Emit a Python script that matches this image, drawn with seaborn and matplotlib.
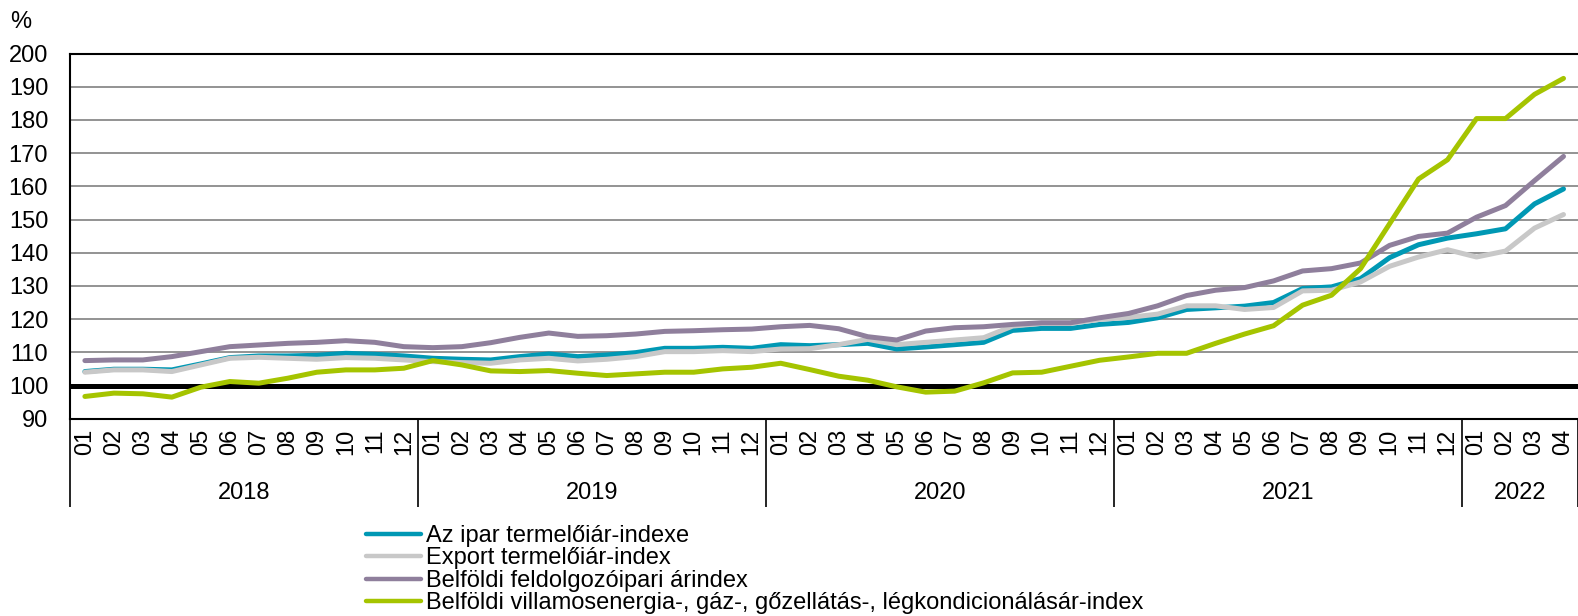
import pandas as pd
import matplotlib
matplotlib.use('Agg')
import matplotlib.pyplot as plt
import matplotlib.transforms as mtransforms
import seaborn as sns

# monthly data, 2018-01 .. 2022-04
months = ['01', '02', '03', '04', '05', '06', '07', '08', '09', '10', '11', '12'] * 4 + ['01', '02', '03', '04']
years = ['2018', '2019', '2020', '2021', '2022']
year_len = [12, 12, 12, 12, 4]

series_names = [
    'Az ipar termelőiár-indexe',
    'Export termelőiár-index',
    'Belföldi feldolgozóipari árindex',
    'Belföldi villamosenergia-, gáz-, gőzellátás-, légkondicionálásár-index',
]

ipar = [104.2, 104.9, 104.9, 104.7, 106.5, 108.4, 108.9, 108.9, 109.1, 109.7, 109.4, 108.9,
        108.2, 107.9, 107.7, 108.7, 109.5, 108.7, 109.2, 109.9, 111.2, 111.2, 111.5, 111.2,
        112.3, 112.0, 112.3, 112.7, 111.0, 111.6, 112.3, 113.0, 116.6, 117.2, 117.2, 118.4,
        119.0, 120.4, 122.9, 123.4, 123.9, 125.0, 129.2, 129.7, 132.2, 138.5, 142.4, 144.4,
        145.7, 147.2, 154.7, 159.2]
export = [104.0, 104.7, 104.7, 104.2, 106.2, 108.2, 108.5, 108.2, 107.9, 108.4, 108.2, 107.7,
          107.2, 106.9, 106.7, 107.7, 108.2, 107.4, 107.9, 108.7, 110.2, 110.2, 110.5, 110.2,
          111.0, 111.1, 112.3, 113.9, 112.3, 113.0, 113.7, 114.4, 117.9, 118.7, 118.7, 119.9,
          120.5, 121.5, 124.0, 124.0, 122.9, 123.5, 128.5, 128.7, 131.2, 135.9, 138.7, 140.9,
          138.7, 140.5, 147.4, 151.5]
feldolgozo = [107.5, 107.7, 107.7, 108.7, 110.2, 111.7, 112.2, 112.7, 113.0, 113.5, 113.0, 111.7,
              111.4, 111.7, 112.9, 114.5, 115.8, 114.8, 115.0, 115.5, 116.3, 116.5, 116.8, 117.0,
              117.7, 118.1, 117.1, 114.7, 113.7, 116.4, 117.4, 117.7, 118.4, 118.9, 118.9, 120.4,
              121.7, 124.0, 127.1, 128.7, 129.5, 131.5, 134.5, 135.2, 136.9, 142.2, 144.9, 145.9,
              150.7, 154.2, 161.7, 169.0]
energia = [96.7, 97.7, 97.5, 96.5, 99.5, 101.2, 100.7, 102.2, 104.0, 104.7, 104.7, 105.2,
           107.5, 106.2, 104.4, 104.2, 104.5, 103.7, 103.0, 103.5, 104.0, 104.0, 105.0, 105.5,
           106.7, 104.8, 102.8, 101.6, 99.6, 98.0, 98.3, 100.8, 103.8, 104.0, 105.8, 107.6,
           108.6, 109.7, 109.7, 112.7, 115.5, 118.0, 124.2, 127.2, 135.2, 148.7, 162.2, 168.0,
           180.4, 180.4, 187.7, 192.5]

colors = ['#0098B4', '#C8C8C8', '#8F7F9C', '#A5C400']

n = len(months)
frames = []
for name, vals in zip(series_names, [ipar, export, feldolgozo, energia]):
    frames.append(pd.DataFrame({'idx': range(n), 'value': vals, 'series': name}))
df = pd.concat(frames, ignore_index=True)

sns.set_theme(style='white')
plt.rcParams['font.family'] = ['Liberation Sans', 'DejaVu Sans']
plt.rcParams['text.color'] = 'black'
plt.rcParams['xtick.color'] = 'black'
plt.rcParams['ytick.color'] = 'black'
FS = 17

W, H = 1578, 616
fig = plt.figure(figsize=(W / 100, H / 100), dpi=100)
left, top, bottom = 70.4, 53.5, 418.7
ax = fig.add_axes([left / W, 1 - bottom / H, (W - left) / W, (bottom - top) / H])

ax.axhline(100, color='black', lw=3.6, zorder=1)
sns.lineplot(data=df, x='idx', y='value', hue='series', hue_order=series_names,
             palette=colors, linewidth=3.6, ax=ax, zorder=3)

handles, labels = ax.get_legend_handles_labels()
ax.legend_.remove()

ax.set_ylim(90, 200)
ax.set_yticks(range(90, 201, 10))
ax.yaxis.grid(True, color='#8a8a8a', lw=1.3)
ax.set_axisbelow(True)
ax.tick_params(axis='y', length=0, pad=16, labelsize=FS, labelcolor='black')
ax.set_xlim(-0.5, n - 1)
ax.set_xlabel('')
ax.set_ylabel('')

for s in ['top', 'left', 'bottom']:
    ax.spines[s].set_visible(True)
    ax.spines[s].set_color('black')
    ax.spines[s].set_linewidth(1.5)
ax.spines['right'].set_visible(False)

# month labels and separators
ax.set_xticks(range(n), labels=months, rotation=90)
ax.tick_params(axis='x', which='major', length=0, pad=7, labelsize=FS, labelcolor='black')
ax.set_xticks([i - 0.5 for i in range(n + 1)], minor=True)
ax.tick_params(axis='x', which='minor', length=32, width=1.2, color='black', direction='out')

# year separators
bounds = [-0.5]
for L in year_len:
    bounds.append(bounds[-1] + L)
sec = ax.secondary_xaxis('bottom')
sec.set_xticks(bounds, labels=[''] * len(bounds))
sec.tick_params(length=63, width=1.2, color='black', direction='out')
sec.spines['bottom'].set_visible(False)

trans = mtransforms.blended_transform_factory(ax.transData, ax.transAxes)
for y, a, b in zip(years, bounds[:-1], bounds[1:]):
    ax.text((a + b) / 2, -0.203, y, transform=trans, ha='center', va='center',
            fontsize=FS, color='black')

fig.text(10 / W, 1 - 22 / H, '%', fontsize=FS, va='center', ha='left', color='black')

leg = fig.legend(handles, labels, loc='upper left', bbox_to_anchor=(366 / W, 1 - 525 / H),
                 frameon=False, fontsize=FS, handlelength=2.35, handletextpad=0.2,
                 labelspacing=0.02, borderpad=0, borderaxespad=0, labelcolor='black')
for h in leg.get_lines():
    h.set_linewidth(3.2)

fig.savefig('out.png', dpi=100)
